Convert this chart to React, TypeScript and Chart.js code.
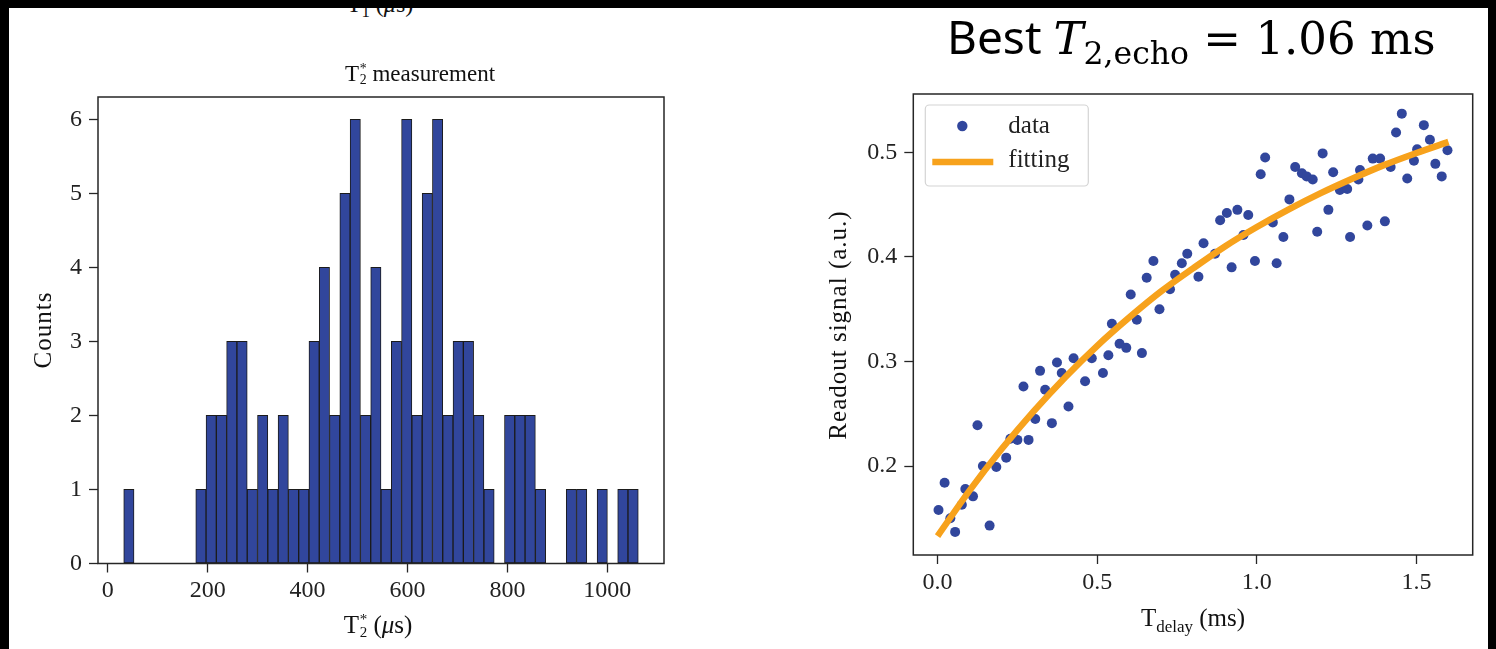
import React, { useEffect, useRef } from 'react';
import { Chart, registerables } from 'chart.js';

Chart.register(...registerables);

// ---------------- data ----------------
// Left: histogram of T2* (50 equal bins between histRange[0] and histRange[1], in microseconds)
const histCounts = [
  1, 0, 0, 0, 0, 0, 0, 1, 2, 2,
  3, 3, 1, 2, 1, 2, 1, 1, 3, 4,
  2, 5, 6, 2, 4, 1, 3, 6, 2, 5,
  6, 2, 3, 3, 2, 1, 0, 2, 2, 2,
  1, 0, 0, 1, 1, 0, 1, 0, 1, 1,
];
const histRange = [32, 1062];
const histXTicks = [0, 200, 400, 600, 800, 1000];
const histYTicks = [0, 1, 2, 3, 4, 5, 6];

// Right: echo decay data (ms, a.u.)
const echoX = [
  0.003, 0.022, 0.040, 0.055, 0.076, 0.087, 0.111, 0.125, 0.142, 0.163,
  0.184, 0.215, 0.228, 0.250, 0.269, 0.285, 0.306, 0.321, 0.337, 0.358,
  0.374, 0.389, 0.410, 0.426, 0.462, 0.483, 0.518, 0.535, 0.546, 0.570,
  0.591, 0.605, 0.624, 0.640, 0.655, 0.676, 0.695, 0.728, 0.744, 0.765,
  0.782, 0.817, 0.833, 0.869, 0.885, 0.906, 0.921, 0.939, 0.958, 0.973,
  0.994, 1.012, 1.026, 1.050, 1.062, 1.083, 1.102, 1.120, 1.141, 1.156,
  1.175, 1.189, 1.206, 1.224, 1.239, 1.260, 1.283, 1.292, 1.318, 1.323,
  1.346, 1.363, 1.386, 1.401, 1.419, 1.436, 1.454, 1.471, 1.492, 1.502,
  1.523, 1.542, 1.559, 1.579, 1.597,
];
const echoY = [
  0.158, 0.184, 0.150, 0.137, 0.163, 0.178, 0.171, 0.239, 0.200, 0.143,
  0.199, 0.208, 0.226, 0.225, 0.276, 0.225, 0.245, 0.291, 0.273, 0.241,
  0.299, 0.289, 0.257, 0.303, 0.281, 0.303, 0.289, 0.306, 0.336, 0.317,
  0.313, 0.364, 0.340, 0.308, 0.380, 0.396, 0.350, 0.369, 0.383, 0.394,
  0.403, 0.381, 0.413, 0.403, 0.435, 0.442, 0.390, 0.445, 0.421, 0.440,
  0.396, 0.479, 0.495, 0.433, 0.394, 0.419, 0.455, 0.486, 0.480, 0.477,
  0.474, 0.424, 0.499, 0.445, 0.481, 0.464, 0.465, 0.419, 0.474, 0.483,
  0.430, 0.494, 0.494, 0.434, 0.486, 0.519, 0.537, 0.475, 0.492, 0.503,
  0.526, 0.512, 0.489, 0.477, 0.502,
];
// fitted curve
const fitX = [0, 0.1, 0.2, 0.3, 0.4, 0.5, 0.6, 0.7, 0.8, 0.9, 1.0, 1.1, 1.2, 1.3, 1.4, 1.5, 1.6];
const fitY = [0.133, 0.1765, 0.216, 0.252, 0.285, 0.315, 0.342, 0.367, 0.389, 0.410, 0.4286, 0.4455, 0.461, 0.475, 0.488, 0.4994, 0.510];
const echoXTicks = [0, 0.5, 1.0, 1.5];
const echoYTicks = [0.2, 0.3, 0.4, 0.5];
const legendLabels = ['data', 'fitting'];

// ---------------- styles ----------------
const SERIF = '"Liberation Serif", "Times New Roman", serif';
const MATH = '"DejaVu Serif", "Liberation Serif", serif';
const BLUE = '#31469c';
const ORANGE = '#f7a21c';
const INK = '#222222';
const SPINE = '#262626';

Chart.defaults.font.family = SERIF;

const framePlugin = {
  id: 'mplFrame',
  afterDatasetsDraw(chart: any) {
    const { ctx, chartArea: a } = chart;
    ctx.save();
    ctx.strokeStyle = SPINE;
    ctx.lineWidth = 1.5;
    ctx.strokeRect(a.left, a.top, a.right - a.left, a.bottom - a.top);
    ctx.restore();
  },
};

const boxLegendPlugin = {
  id: 'boxLegend',
  afterDatasetsDraw(chart: any) {
    const { ctx, chartArea } = chart;
    const x = chartArea.left + 12;
    const y = chartArea.top + 11;
    const w = 163;
    const h = 81;
    ctx.save();
    ctx.beginPath();
    if (ctx.roundRect) ctx.roundRect(x, y, w, h, 4);
    else ctx.rect(x, y, w, h);
    ctx.fillStyle = 'rgba(255,255,255,0.85)';
    ctx.fill();
    ctx.strokeStyle = '#d4d4d4';
    ctx.lineWidth = 1.2;
    ctx.stroke();
    // marker sample
    ctx.fillStyle = BLUE;
    ctx.beginPath();
    ctx.arc(x + 37, y + 21, 5.2, 0, Math.PI * 2);
    ctx.fill();
    // line sample
    ctx.strokeStyle = ORANGE;
    ctx.lineWidth = 6.5;
    ctx.beginPath();
    ctx.moveTo(x + 7, y + 57);
    ctx.lineTo(x + 68, y + 57);
    ctx.stroke();
    // texts
    ctx.fillStyle = INK;
    ctx.font = `25px ${SERIF}`;
    ctx.textBaseline = 'middle';
    ctx.textAlign = 'left';
    ctx.fillText(legendLabels[0], x + 83, y + 21);
    ctx.fillText(legendLabels[1], x + 83, y + 55);
    ctx.restore();
  },
};

const tickFont = { family: SERIF, size: 24 };
const gridOpts = {
  display: true,
  offset: false,
  drawOnChartArea: false,
  drawTicks: true,
  tickLength: 9,
  tickColor: SPINE,
  tickWidth: 1.3,
};

function histConfig(): any {
  const n = histCounts.length;
  const bw = (histRange[1] - histRange[0]) / n;
  const data = histCounts
    .map((c, i) => ({ x: histRange[0] + bw * (i + 0.5), y: c }))
    .filter((d) => d.y > 0);
  return {
    type: 'bar',
    data: {
      datasets: [
        {
          data,
          backgroundColor: BLUE,
          borderColor: '#1b1b1b',
          borderWidth: 1,
          borderSkipped: false,
          barPercentage: 1,
          categoryPercentage: 1,
        },
      ],
    },
    options: {
      animation: false,
      responsive: false,
      layout: { padding: { left: 0, top: 40, right: 46, bottom: 0 } },
      plugins: { legend: { display: false }, tooltip: { enabled: false }, title: { display: false } },
      scales: {
        x: {
          type: 'linear',
          offset: false,
          min: -19.5,
          max: 1113.5,
          grid: gridOpts,
          border: { display: false },
          ticks: { font: tickFont, color: INK, padding: 4, autoSkip: false, maxRotation: 0, callback: (v: any) => String(v) },
          afterBuildTicks: (s: any) => { s.ticks = histXTicks.map((v) => ({ value: v })); },
          afterFit: (s: any) => { s.height = 83.5; },
        },
        y: {
          type: 'linear',
          min: 0,
          max: 6.3,
          grid: gridOpts,
          border: { display: false },
          ticks: { font: tickFont, color: INK, padding: 7, autoSkip: false, callback: (v: any) => String(v) },
          afterBuildTicks: (s: any) => { s.ticks = histYTicks.map((v) => ({ value: v })); },
          afterFit: (s: any) => { s.width = 88; },
        },
      },
    },
    plugins: [framePlugin],
  };
}

function echoConfig(): any {
  return {
    type: 'scatter',
    data: {
      datasets: [
        {
          label: legendLabels[1],
          data: fitX.map((x, i) => ({ x, y: fitY[i] })),
          showLine: true,
          borderColor: ORANGE,
          borderWidth: 6.5,
          pointRadius: 0,
          tension: 0.4,
          cubicInterpolationMode: 'monotone',
          order: 0,
        },
        {
          label: legendLabels[0],
          data: echoX.map((x, i) => ({ x, y: echoY[i] })),
          pointRadius: 5,
          pointBackgroundColor: BLUE,
          pointBorderWidth: 0,
          pointStyle: 'circle',
          order: 1,
        },
      ],
    },
    options: {
      animation: false,
      responsive: false,
      layout: { padding: { left: 0, top: 44, right: 15.3, bottom: 0 } },
      plugins: { legend: { display: false }, tooltip: { enabled: false }, title: { display: false } },
      scales: {
        x: {
          type: 'linear',
          min: -0.076,
          max: 1.676,
          grid: gridOpts,
          border: { display: false },
          ticks: { font: tickFont, color: INK, padding: 4, autoSkip: false, maxRotation: 0, callback: (v: any) => Number(v).toFixed(1) },
          afterBuildTicks: (s: any) => { s.ticks = echoXTicks.map((v) => ({ value: v })); },
          afterFit: (s: any) => { s.height = 92; },
        },
        y: {
          type: 'linear',
          min: 0.1149,
          max: 0.5558,
          grid: gridOpts,
          border: { display: false },
          ticks: { font: tickFont, color: INK, padding: 7, autoSkip: false, callback: (v: any) => Number(v).toFixed(1) },
          afterBuildTicks: (s: any) => { s.ticks = echoYTicks.map((v) => ({ value: v })); },
          afterFit: (s: any) => { s.width = 113.3; },
        },
      },
    },
    plugins: [framePlugin, boxLegendPlugin],
  };
}

function ChartCanvas(props: { left: number; top: number; width: number; height: number; make: () => any }) {
  const ref = useRef<HTMLCanvasElement | null>(null);
  useEffect(() => {
    const chart = new Chart(ref.current as HTMLCanvasElement, props.make());
    return () => chart.destroy();
  }, []);
  return (
    <canvas
      ref={ref}
      width={props.width}
      height={props.height}
      style={{ position: 'absolute', left: props.left, top: props.top, width: props.width, height: props.height, zIndex: 1 }}
    />
  );
}

function TStar() {
  return (
    <>
      T
      <span
        style={{
          display: 'inline-flex',
          flexDirection: 'column',
          fontSize: '0.6em',
          lineHeight: '0.85em',
          verticalAlign: '0.6em',
          marginLeft: '0.05em',
        }}
      >
        <span>*</span>
        <span>2</span>
      </span>
    </>
  );
}

const sub: React.CSSProperties = { fontSize: '0.7em', verticalAlign: '-0.3em', lineHeight: 0 };

export default function App() {
  const abs: React.CSSProperties = { position: 'absolute', whiteSpace: 'nowrap', color: '#111', zIndex: 2 };
  return (
    <div style={{ position: 'absolute', left: 0, top: 0, width: 1496, height: 649, background: '#fff', overflow: 'hidden' }}>
      {/* cut-off label from the figure above */}
      <div style={{ ...abs, left: 280, width: 200, top: -8, textAlign: 'center', fontFamily: SERIF, fontSize: 24, lineHeight: '24px' }}>
        T<span style={sub}>1</span> (<i>μ</i>s)
      </div>

      {/* left chart */}
      <div style={{ ...abs, left: 345, top: 61, fontFamily: SERIF, fontSize: 23, lineHeight: '26px' }}>
        <TStar /> measurement
      </div>
      <ChartCanvas left={10} top={57} width={700} height={590} make={histConfig} />
      <div style={{ ...abs, left: 278, width: 200, top: 612, textAlign: 'center', fontFamily: SERIF, fontSize: 25, lineHeight: '25px' }}>
        <TStar /> (<i>μ</i>s)
      </div>
      <div
        style={{
          ...abs,
          left: 43 - 100,
          top: 330 - 15,
          width: 200,
          height: 30,
          lineHeight: '30px',
          textAlign: 'center',
          fontFamily: SERIF,
          fontSize: 25,
          letterSpacing: '1px',
          transform: 'rotate(-90deg)',
        }}
      >
        Counts
      </div>

      {/* right chart */}
      <div style={{ ...abs, left: 947, top: 11, lineHeight: '50px', color: '#000' }}>
        <span style={{ fontFamily: '"Noto Sans", sans-serif', fontSize: 46 }}>Best </span>
        <span style={{ fontFamily: MATH, fontSize: 45 }}>
          <i>T</i>
          <span style={{ fontSize: '0.7em', verticalAlign: '-0.32em' }}>2,echo</span> = 1.06 ms
        </span>
      </div>
      <ChartCanvas left={800} top={50} width={688} height={597} make={echoConfig} />
      <div style={{ ...abs, left: 1093, width: 200, top: 605, textAlign: 'center', fontFamily: SERIF, fontSize: 25, lineHeight: '25px' }}>
        T<span style={{ fontSize: '0.68em', verticalAlign: '-0.35em' }}>delay</span> (ms)
      </div>
      <div
        style={{
          ...abs,
          left: 838 - 150,
          top: 325 - 15,
          width: 300,
          height: 30,
          lineHeight: '30px',
          textAlign: 'center',
          fontFamily: SERIF,
          fontSize: 25,
          letterSpacing: '1px',
          transform: 'rotate(-90deg)',
        }}
      >
        Readout signal (a.u.)
      </div>

      {/* black frame of the screenshot */}
      <div style={{ position: 'absolute', left: 0, top: 0, width: 1496, height: 8, background: '#000', zIndex: 10 }} />
      <div style={{ position: 'absolute', left: 0, top: 0, width: 9, height: 649, background: '#000', zIndex: 10 }} />
      <div style={{ position: 'absolute', left: 1488, top: 0, width: 8, height: 649, background: '#000', zIndex: 10 }} />
    </div>
  );
}
